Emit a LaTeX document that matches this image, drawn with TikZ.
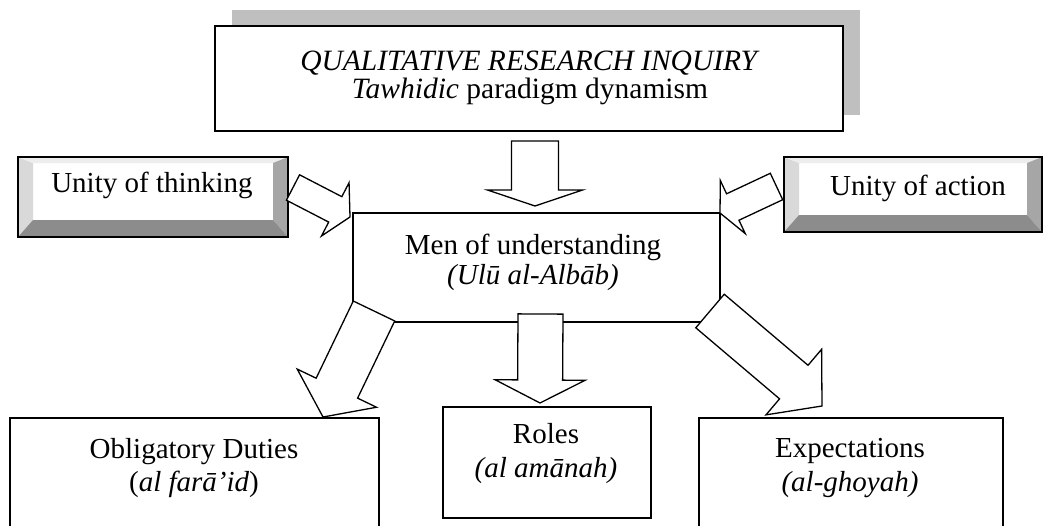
\documentclass[tikz,border=0pt]{standalone}
\usepackage{fontspec}
\setmainfont{Liberation Serif}
\usetikzlibrary{calc,shadows}

\tikzset{
  box/.style={draw, line width=1.3pt, fill=white, inner sep=0pt},
  txt/.style={align=center, inner sep=0pt, font=\fontsize{29}{34}\selectfont},
  barrow/.style={draw, line width=1.3pt, fill=white, line join=miter},
  bevelbox/.style={draw, line width=1.3pt, fill=white, inner sep=0pt,
    path picture={
      \coordinate (bv-sw) at (path picture bounding box.south west);
      \coordinate (bv-ne) at (path picture bounding box.north east);
      \coordinate (bv-nw) at (bv-sw|-bv-ne);
      \coordinate (bv-se) at (bv-ne|-bv-sw);
      \coordinate (iv-sw) at ($(bv-sw)+(15pt,17pt)$);
      \coordinate (iv-nw) at ($(bv-nw)+(15pt,-6pt)$);
      \coordinate (iv-ne) at ($(bv-ne)+(-15pt,-6pt)$);
      \coordinate (iv-se) at ($(bv-se)+(-15pt,17pt)$);
      \fill[black!15] (bv-sw) -- (bv-nw) -- (iv-nw) -- (iv-sw) -- cycle;
      \fill[black!7] (bv-nw) -- (bv-ne) -- (iv-ne) -- (iv-nw) -- cycle;
      \fill[black!35] (bv-ne) -- (bv-se) -- (iv-se) -- (iv-ne) -- cycle;
      \fill[black!45] (bv-sw) -- (bv-se) -- (iv-se) -- (iv-sw) -- cycle;
    }}
}

% tail, tip, half shaft, half head, head length
\newcommand{\blockarrow}[5]{%
  \coordinate (ba-h) at ($(#2)!#5!(#1)$);
  \draw[barrow] ($(#1)!#3!90:(#2)$) -- ($(ba-h)!#3!90:(#2)$) -- ($(ba-h)!#4!90:(#2)$) -- (#2)
    -- ($(ba-h)!#4!-90:(#2)$) -- ($(ba-h)!#3!-90:(#2)$) -- ($(#1)!#3!-90:(#2)$) -- cycle;
}

\begin{document}
\begin{tikzpicture}[x=1pt,y=1pt]
  \clip (0,0) rectangle (1043,-525);

  % top box
  \node[box, line width=1.6pt, minimum width=628pt, minimum height=105pt,
        drop shadow={shadow xshift=16.5pt, shadow yshift=16pt, fill=black!25, opacity=1}] (qri) at (529,-78.5) {};
  \node[txt, font=\fontsize{29.5}{28}\selectfont] (qri-txt) at (530,-78)
    {\textit{QUALITATIVE RESEARCH INQUIRY}\\\textit{Tawhidic} paradigm dynamism};

  % middle
  \node[box, minimum width=367pt, minimum height=109pt] (mou) at (536.5,-267.5) {};
  \node[txt, font=\fontsize{29}{30}\selectfont] (mou-txt) at (533,-262.5)
    {Men of understanding\\\textit{(Ulū al-Albāb)}};

  \node[bevelbox, minimum width=270pt, minimum height=80pt] (think) at (153,-197) {};
  \node[txt, anchor=base] (think-txt) at (152,-192) {Unity of thinking};
  \node[bevelbox, minimum width=258pt, minimum height=75pt] (act) at (913,-194.5) {};
  \node[txt, anchor=base] (act-txt) at (918,-195) {Unity of action};

  % bottom boxes
  \node[box, minimum width=369pt, minimum height=150pt] (duties) at (194.5,-493) {};
  \node[txt, font=\fontsize{29}{33}\selectfont] (duties-txt) at (194,-468.5)
    {Obligatory Duties\\(\textit{al farā’id})};
  \node[box, minimum width=208pt, minimum height=111pt] (roles) at (547,-462.5) {};
  \node[txt, font=\fontsize{29}{34}\selectfont] (roles-txt) at (546,-453.5)
    {Roles\\\textit{(al amānah)}};
  \node[box, minimum width=304pt, minimum height=150pt] (expect) at (851,-493) {};
  \node[txt] (expect-txt) at (850,-468) {Expectations\\\textit{(al-ghoyah)}};

  % arrows
  \coordinate (down-s) at (535,-141);
  \coordinate (down-e) at (535,-206);
  \coordinate (think-s) at (293,-187.5);
  \coordinate (think-e) at (350,-217);
  \coordinate (act-s) at (776.5,-186.5);
  \coordinate (act-e) at (720,-213);
  \coordinate (duties-s) at (374,-311);
  \coordinate (duties-e) at (323,-417);
  \coordinate (roles-s) at (540.5,-314);
  \coordinate (roles-e) at (540,-403);
  \coordinate (expect-s) at (710,-311);
  \coordinate (expect-e) at (822,-406);

  \blockarrow{down-s}{down-e}{23.5pt}{47.5pt}{16pt}
  \blockarrow{think-s}{think-e}{14.3pt}{30pt}{16.6pt}
  \blockarrow{act-s}{act-e}{14.6pt}{29.3pt}{14.1pt}
  \blockarrow{duties-s}{duties-e}{23pt}{44pt}{32pt}
  \blockarrow{roles-s}{roles-e}{22.5pt}{45pt}{23pt}
  \blockarrow{expect-s}{expect-e}{22pt}{43pt}{37pt}
\end{tikzpicture}
\end{document}
